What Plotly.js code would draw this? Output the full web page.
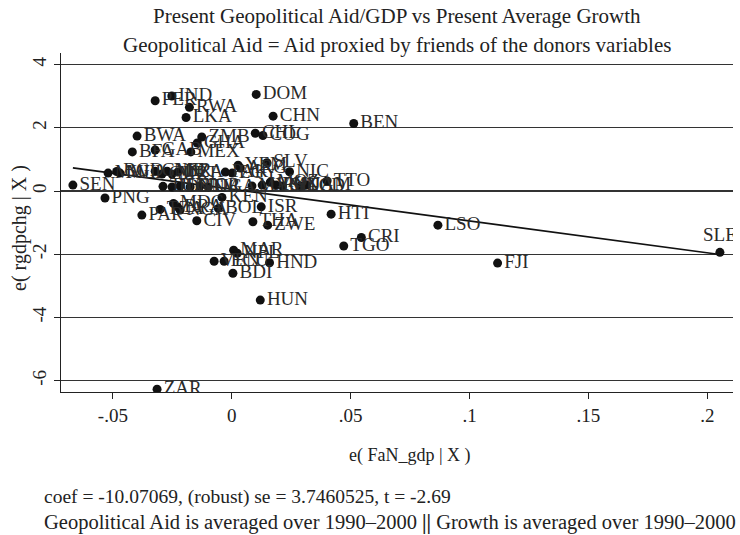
<!DOCTYPE html>
<html>
<head>
<meta charset="utf-8">
<script src="https://cdn.plot.ly/plotly-3.0.1.min.js"></script>
<style>html,body{margin:0;padding:0;background:#fff;overflow:hidden}#chart{width:740px;height:535px}</style>
</head>
<body>
<div id="chart"></div>
<script>
// Country labels, x = e(FaN_gdp | X), y = e(rgdpchg | X)
var countries = ["SEN","PNG","PAR","BWA","BFA","GAB","MEX","ZMB","GHA","PER","IND","RWA","LKA","DOM","CHN","BEN","CHL","COG","SLV","NIC","TTO","HTI","CRI","TGO","LSO","FJI","SLE","ISR","THA","ZWE","KEN","BOL","CIV","BDI","VEN","ECU","HND","MAR","NPL","HUN","ZAR","TZA","MDG","BRA","NGA","MWI","BGD","MLI","GMB","GIN","NER","MRT","DZA","PAK","EGY","YEM","ARG","TUN","IDN","LBN","GTM","JOR","UGA","MYS","URY","MOZ","PHL","MNG","TCD","JAM"];
var xResid = [-0.0668,-0.0533,-0.0378,-0.0398,-0.0418,-0.0322,-0.0172,-0.0126,-0.0145,-0.0322,-0.0252,-0.0178,-0.0192,0.0103,0.0174,0.0513,0.0099,0.0131,0.0148,0.0243,0.0401,0.0418,0.0545,0.0471,0.0867,0.1118,0.2053,0.0124,0.0089,0.0151,-0.0041,-0.0056,-0.0147,0.0005,-0.0074,-0.0032,0.0159,0.0008,0.0023,0.0120,-0.0314,-0.0301,-0.0245,-0.0228,-0.0217,-0.0520,-0.0484,-0.0470,-0.0322,-0.0293,-0.0272,-0.0251,-0.0227,-0.0027,0.0002,0.0027,0.0036,-0.0289,-0.0251,-0.0217,-0.0175,-0.0133,-0.0099,0.0085,0.0128,0.0162,0.0187,0.0213,0.0289,0.0314];
var yResid = [0.19,-0.22,-0.76,1.74,1.24,1.30,1.24,1.71,1.52,2.86,3.01,2.65,2.33,3.06,2.37,2.14,1.83,1.76,0.90,0.61,0.32,-0.73,-1.47,-1.74,-1.08,-2.28,-1.94,-0.50,-0.97,-1.08,-0.20,-0.55,-0.94,-2.60,-2.22,-2.22,-2.27,-1.87,-1.97,-3.45,-6.27,-0.58,-0.39,-0.50,-0.60,0.57,0.62,0.57,0.63,0.54,0.63,0.54,0.60,0.60,0.57,0.82,0.73,0.15,0.13,0.16,0.13,0.16,0.13,0.16,0.19,0.28,0.19,0.16,0.16,0.19];

var fitCoef = -10.07069;
var fitIntercept = 0.06;

var xTickVals = [-0.05, 0, 0.05, 0.1, 0.15, 0.2];
var xTickText = ["-.05", "0", ".05", ".1", ".15", ".2"];
var yTickVals = [-6, -4, -2, 0, 2, 4];
var yTickText = ["-6", "-4", "-2", "0", "2", "4"];

var titleLine1 = "Present Geopolitical Aid/GDP vs Present Average Growth";
var titleLine2 = "Geopolitical Aid = Aid proxied by friends of the donors variables";
var xTitle = "e( FaN_gdp | X )";
var yTitle = "e( rgdpchg | X )";
var noteLine1 = "coef = -10.07069, (robust) se = 3.7460525, t = -2.69";
var noteLine2 = "Geopolitical Aid is averaged over 1990\u20132000 <b>||</b> Growth is averaged over 1990\u20132000";

var FONT = "Liberation Serif, Times New Roman, serif";

var positions = countries.map(function(c){ return c === "SLE" ? "top center" : "middle right"; });

var xMin = Math.min.apply(null, xResid), xMax = Math.max.apply(null, xResid);
var fitX = [xMin, xMax];
var fitY = fitX.map(function(v){ return fitIntercept + fitCoef * v; });

var traces = [
  {
    x: fitX, y: fitY, mode: "lines", type: "scatter",
    line: {color: "#111", width: 1.6}, hoverinfo: "skip", showlegend: false
  },
  {
    x: xResid, y: yResid, text: countries, mode: "markers+text", type: "scatter",
    textposition: positions,
    textfont: {family: FONT, size: 19, color: "#2a2a2a"},
    marker: {color: "#111", size: 9},
    showlegend: false
  }
];

var layout = {
  width: 740, height: 535,
  margin: {l: 61, r: 7, t: 53, b: 143},
  paper_bgcolor: "#fff", plot_bgcolor: "#fff",
  font: {family: FONT, size: 17, color: "#222"},
  showlegend: false,
  xaxis: {
    range: [-0.0718, 0.2108],
    tickvals: xTickVals, ticktext: xTickText,
    ticks: "outside", ticklen: 6, tickcolor: "#222",
    showgrid: false, zeroline: false,
    showline: true, linecolor: "#222", linewidth: 1.3,
    tickfont: {family: FONT, size: 19, color: "#222"}
  },
  yaxis: {
    range: [-6.36, 4.37],
    tickvals: yTickVals, ticktext: yTickText,
    tickangle: -90,
    ticks: "outside", ticklen: 6, tickcolor: "#222",
    showgrid: true, gridcolor: "#333", gridwidth: 1.2,
    zeroline: false,
    showline: true, linecolor: "#222", linewidth: 1.3,
    tickfont: {family: FONT, size: 19, color: "#222"}
  },
  annotations: [
    {text: titleLine1, xref: "paper", yref: "paper", x: 0.5, y: 1.109, xanchor: "center", yanchor: "middle", showarrow: false, font: {family: FONT, size: 21, color: "#222"}},
    {text: titleLine2, xref: "paper", yref: "paper", x: 0.5, y: 1.0236, xanchor: "center", yanchor: "middle", showarrow: false, font: {family: FONT, size: 21, color: "#222"}},
    {text: xTitle, xref: "paper", yref: "paper", x: 0.519, y: -0.186, xanchor: "center", yanchor: "middle", showarrow: false, font: {family: FONT, size: 18, color: "#222"}},
    {text: yTitle, xref: "paper", yref: "paper", x: -0.061, y: 0.484, xanchor: "center", yanchor: "middle", textangle: -90, showarrow: false, font: {family: FONT, size: 20, color: "#222"}},
    {text: noteLine1, xref: "paper", yref: "paper", x: -0.028, y: -0.31, xanchor: "left", yanchor: "middle", showarrow: false, font: {family: FONT, size: 19.5, color: "#222"}},
    {text: noteLine2, xref: "paper", yref: "paper", x: -0.028, y: -0.384, xanchor: "left", yanchor: "middle", showarrow: false, font: {family: FONT, size: 20.5, color: "#222"}}
  ]
};

Plotly.newPlot("chart", traces, layout, {staticPlot: true, displayModeBar: false});
</script>
</body>
</html>
